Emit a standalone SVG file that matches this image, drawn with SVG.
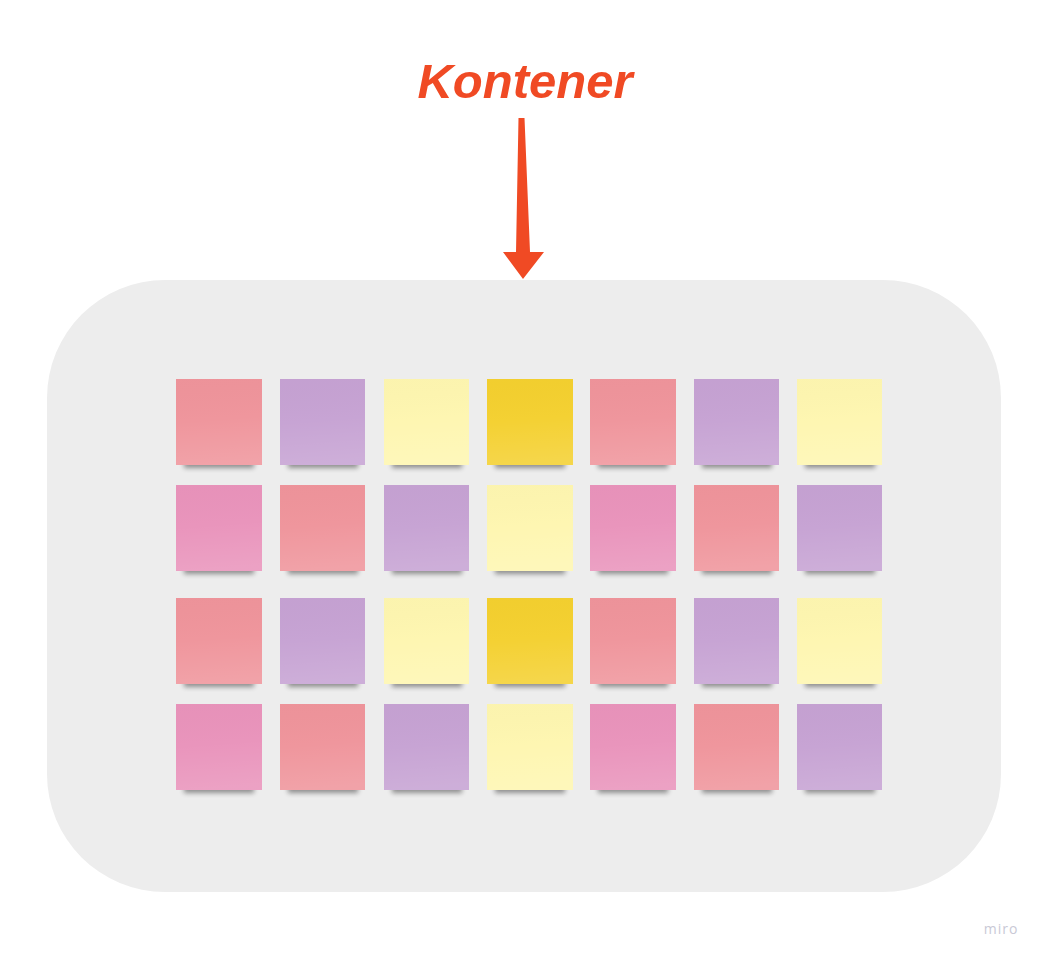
<svg xmlns="http://www.w3.org/2000/svg" width="1042" height="958" viewBox="0 0 1042 958">
<defs>
<style>
.title{font-family:"Liberation Sans","DejaVu Sans",sans-serif;font-style:italic;font-weight:bold;font-size:49px;fill:#F04A24}
.wm{font-family:"Open Sans","Liberation Sans",sans-serif;font-size:14px;fill:#C9C9D6;letter-spacing:1px}
.r{fill:#EF949B}.p{fill:#C6A2D3}.ly{fill:#FEF6B0}.y{fill:#F4D02F}.k{fill:#E993BB}
.shade{fill:url(#sheen)}
.shadow{fill:#000;opacity:0.4;filter:url(#blur)}
</style>
<linearGradient id="sheen" x1="0" y1="0" x2="0.08" y2="1">
<stop offset="0" stop-color="#000" stop-opacity="0.01"/>
<stop offset="0.5" stop-color="#fff" stop-opacity="0.02"/>
<stop offset="1" stop-color="#fff" stop-opacity="0.13"/>
</linearGradient>
<filter id="blur" x="-20%" y="-100%" width="140%" height="300%"><feGaussianBlur stdDeviation="2.5"/></filter>
</defs>
<rect width="1042" height="958" fill="#FFFFFF"/>
<g id="container"><rect x="47" y="280" width="954" height="612" rx="118" ry="118" fill="#EDEDED"/></g>
<g id="title"><text class="title" x="525" y="98" text-anchor="middle">Kontener</text></g>
<g id="connectors">
<polygon points="518.5,118 524.5,118 530,252 544,252 523,279 503,252 516,252" fill="#F04A24"/>
</g>
<g id="notes">
<g id="n11"><rect class="shadow" x="184" y="459" width="70" height="9"/><rect class="r" x="176" y="379" width="86" height="86"/><rect class="shade" x="176" y="379" width="86" height="86"/></g>
<g id="n12"><rect class="shadow" x="288" y="459" width="70" height="9"/><rect class="p" x="280" y="379" width="85" height="86"/><rect class="shade" x="280" y="379" width="85" height="86"/></g>
<g id="n13"><rect class="shadow" x="392" y="459" width="70" height="9"/><rect class="ly" x="384" y="379" width="85" height="86"/><rect class="shade" x="384" y="379" width="85" height="86"/></g>
<g id="n14"><rect class="shadow" x="495" y="459" width="70" height="9"/><rect class="y" x="487" y="379" width="86" height="86"/><rect class="shade" x="487" y="379" width="86" height="86"/></g>
<g id="n15"><rect class="shadow" x="598" y="459" width="70" height="9"/><rect class="r" x="590" y="379" width="86" height="86"/><rect class="shade" x="590" y="379" width="86" height="86"/></g>
<g id="n16"><rect class="shadow" x="702" y="459" width="70" height="9"/><rect class="p" x="694" y="379" width="85" height="86"/><rect class="shade" x="694" y="379" width="85" height="86"/></g>
<g id="n17"><rect class="shadow" x="805" y="459" width="70" height="9"/><rect class="ly" x="797" y="379" width="85" height="86"/><rect class="shade" x="797" y="379" width="85" height="86"/></g>

<g id="n21"><rect class="shadow" x="184" y="565" width="70" height="9"/><rect class="k" x="176" y="485" width="86" height="86"/><rect class="shade" x="176" y="485" width="86" height="86"/></g>
<g id="n22"><rect class="shadow" x="288" y="565" width="70" height="9"/><rect class="r" x="280" y="485" width="85" height="86"/><rect class="shade" x="280" y="485" width="85" height="86"/></g>
<g id="n23"><rect class="shadow" x="392" y="565" width="70" height="9"/><rect class="p" x="384" y="485" width="85" height="86"/><rect class="shade" x="384" y="485" width="85" height="86"/></g>
<g id="n24"><rect class="shadow" x="495" y="565" width="70" height="9"/><rect class="ly" x="487" y="485" width="86" height="86"/><rect class="shade" x="487" y="485" width="86" height="86"/></g>
<g id="n25"><rect class="shadow" x="598" y="565" width="70" height="9"/><rect class="k" x="590" y="485" width="86" height="86"/><rect class="shade" x="590" y="485" width="86" height="86"/></g>
<g id="n26"><rect class="shadow" x="702" y="565" width="70" height="9"/><rect class="r" x="694" y="485" width="85" height="86"/><rect class="shade" x="694" y="485" width="85" height="86"/></g>
<g id="n27"><rect class="shadow" x="805" y="565" width="70" height="9"/><rect class="p" x="797" y="485" width="85" height="86"/><rect class="shade" x="797" y="485" width="85" height="86"/></g>

<g id="n31"><rect class="shadow" x="184" y="678" width="70" height="9"/><rect class="r" x="176" y="598" width="86" height="86"/><rect class="shade" x="176" y="598" width="86" height="86"/></g>
<g id="n32"><rect class="shadow" x="288" y="678" width="70" height="9"/><rect class="p" x="280" y="598" width="85" height="86"/><rect class="shade" x="280" y="598" width="85" height="86"/></g>
<g id="n33"><rect class="shadow" x="392" y="678" width="70" height="9"/><rect class="ly" x="384" y="598" width="85" height="86"/><rect class="shade" x="384" y="598" width="85" height="86"/></g>
<g id="n34"><rect class="shadow" x="495" y="678" width="70" height="9"/><rect class="y" x="487" y="598" width="86" height="86"/><rect class="shade" x="487" y="598" width="86" height="86"/></g>
<g id="n35"><rect class="shadow" x="598" y="678" width="70" height="9"/><rect class="r" x="590" y="598" width="86" height="86"/><rect class="shade" x="590" y="598" width="86" height="86"/></g>
<g id="n36"><rect class="shadow" x="702" y="678" width="70" height="9"/><rect class="p" x="694" y="598" width="85" height="86"/><rect class="shade" x="694" y="598" width="85" height="86"/></g>
<g id="n37"><rect class="shadow" x="805" y="678" width="70" height="9"/><rect class="ly" x="797" y="598" width="85" height="86"/><rect class="shade" x="797" y="598" width="85" height="86"/></g>

<g id="n41"><rect class="shadow" x="184" y="784" width="70" height="9"/><rect class="k" x="176" y="704" width="86" height="86"/><rect class="shade" x="176" y="704" width="86" height="86"/></g>
<g id="n42"><rect class="shadow" x="288" y="784" width="70" height="9"/><rect class="r" x="280" y="704" width="85" height="86"/><rect class="shade" x="280" y="704" width="85" height="86"/></g>
<g id="n43"><rect class="shadow" x="392" y="784" width="70" height="9"/><rect class="p" x="384" y="704" width="85" height="86"/><rect class="shade" x="384" y="704" width="85" height="86"/></g>
<g id="n44"><rect class="shadow" x="495" y="784" width="70" height="9"/><rect class="ly" x="487" y="704" width="86" height="86"/><rect class="shade" x="487" y="704" width="86" height="86"/></g>
<g id="n45"><rect class="shadow" x="598" y="784" width="70" height="9"/><rect class="k" x="590" y="704" width="86" height="86"/><rect class="shade" x="590" y="704" width="86" height="86"/></g>
<g id="n46"><rect class="shadow" x="702" y="784" width="70" height="9"/><rect class="r" x="694" y="704" width="85" height="86"/><rect class="shade" x="694" y="704" width="85" height="86"/></g>
<g id="n47"><rect class="shadow" x="805" y="784" width="70" height="9"/><rect class="p" x="797" y="704" width="85" height="86"/><rect class="shade" x="797" y="704" width="85" height="86"/></g>
</g>
<g id="watermark"><text class="wm" x="1001" y="934" text-anchor="middle">miro</text></g>
</svg>
